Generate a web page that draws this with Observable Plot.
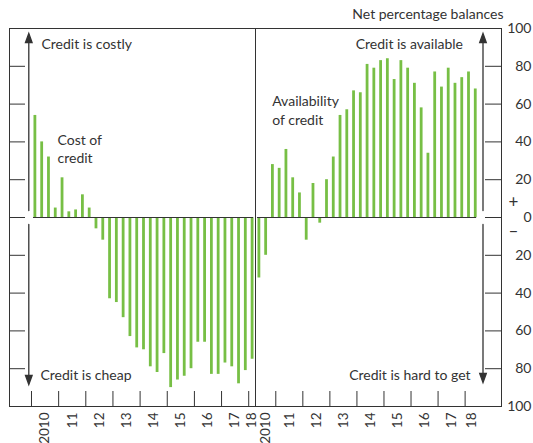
<!DOCTYPE html>
<html><head><meta charset="utf-8">
<script src="https://cdn.jsdelivr.net/npm/d3@7"></script>
<script src="https://cdn.jsdelivr.net/npm/@observablehq/plot@0.6"></script>
<style>
html,body{margin:0;padding:0;background:#fff;}
#chart{position:relative;width:533px;height:443px;overflow:hidden;font-family:Lato,sans-serif;}
#chart > svg{position:absolute;top:0;}
</style></head><body><div id="chart"></div>
<script>
// Net percentage balances, quarterly
const costOfCredit = [54,40,32,5,21,3,4,12,5,-6,-12,-43,-45,-53,-63,-69,-70,-79,-82,-72,-90,-86,-84,-80,-66,-66,-83,-83,-77,-79,-88,-81,-75];
const availabilityOfCredit = [-32,-20,28,26,36,21,13,-12,18,-3,20,32,54,57,67,66,81,79,83,84,73,83,79,71,58,34,77,69,79,71,74,77,68];
const costFirstQuarter = [2010, 1];
const availFirstQuarter = [2010, 2];
const yearTicksLeft = [2010,2011,2012,2013,2014,2015,2016,2017,2018];
const yearTicksRight = [2011,2012,2013,2014,2015,2016,2017,2018];
const yearLabels = ["2010","11","12","13","14","15","16","17","18"];
const labelPosLeft = [2010.5,2011.5,2012.5,2013.5,2014.5,2015.5,2016.5,2017.5,2018.125];
const labelPosRight = [2010.625,2011.5,2012.5,2013.5,2014.5,2015.5,2016.5,2017.5,2018.25];
const yTickValues = [-100,-80,-60,-40,-20,0,20,40,60,80,100];
const innerTicks = [-80,-60,-40,-20,0,20,40,60,80];

const green = "#77bf45";
const ink = "#333333";

function toSeries(values, [y, q]) {
  return values.map((v, i) => ({t: y + (q - 1 + i + 0.5) / 4, v}));
}
const leftData = toSeries(costOfCredit, costFirstQuarter);
const rightData = toSeries(availabilityOfCredit, availFirstQuarter);

const arrowShape = {
  draw(context, l) {
    context.moveTo(0, 0);
    context.lineTo(0, -l + 7);
    context.moveTo(-3.3, -l + 9);
    context.lineTo(0, -l);
    context.lineTo(3.3, -l + 9);
    context.closePath();
  }
};
const common = {
  height: 443, marginTop: 28, marginBottom: 37,
  y: {domain: [-100, 100], axis: null},
  style: {fontFamily: "Lato, sans-serif", fontSize: "14px", color: ink, background: "transparent", overflow: "visible"}
};
function arrow(anchor, dx, dy, length, rotate) {
  return Plot.vector([0], {frameAnchor: anchor, dx, dy, length, rotate, anchor: "start", shape: arrowShape, stroke: ink, fill: ink, strokeWidth: 1.3, strokeLinejoin: "miter"});
}
function label(text, anchor, dx, dy, textAnchor, extra = {}) {
  return Plot.text([text], {text: d => d, frameAnchor: anchor, dx, dy, textAnchor, lineAnchor: "middle", fill: ink, fontSize: 14, ...extra});
}
const labMapL = new Map(labelPosLeft.map((p, i) => [p, yearLabels[i]]));
const labMapR = new Map(labelPosRight.map((p, i) => [p, yearLabels[i]]));

const left = Plot.plot({
  ...common,
  width: 255, marginLeft: 9, marginRight: 0,
  x: {domain: [2009.19, 2018.25], axis: null},
  marks: [
    Plot.frame({stroke: ink}),
    Plot.ruleY(innerTicks, {y: d => d, insetRight: 230, stroke: ink}),
    Plot.ruleX(yearTicksLeft, {x: d => d, insetTop: 363, stroke: ink}),
    Plot.ruleX(leftData, {x: "t", y1: 0, y2: "v", stroke: green, strokeWidth: 2.8}),
    Plot.ruleY([0], {x1: leftData[0].t, x2: leftData[leftData.length - 1].t, insetLeft: -1.4, insetRight: -1.4, stroke: ink}),
    Plot.axisX(labelPosLeft, {label: null, tickFormat: d => labMapL.get(d), tickSize: 0, tickRotate: -90, tickPadding: 6, textAnchor: "end", lineAnchor: "middle", fontSize: 13.5, fill: ink}),
    arrow("top-left", 19.3, 182, 177, 0),
    arrow("top-left", 19.3, 196, 160, 180),
    label("Credit is costly", "top-left", 32, 16, "start"),
    label("Credit is cheap", "bottom-left", 31, -31, "start"),
    label("Cost of\ncredit", "top-left", 48, 119.5, "start", {lineHeight: 1.3})
  ]
});

const right = Plot.plot({
  ...common,
  width: 278, marginLeft: 0, marginRight: 32,
  x: {domain: [2010.25, 2019.345], axis: null},
  marks: [
    Plot.frame({stroke: ink}),
    Plot.ruleY(innerTicks, {y: d => d, insetLeft: 230, stroke: ink}),
    Plot.ruleX(yearTicksRight, {x: d => d, insetTop: 363, stroke: ink}),
    Plot.ruleX(rightData, {x: "t", y1: 0, y2: "v", stroke: green, strokeWidth: 2.8}),
    Plot.ruleY([0], {x1: rightData[0].t, x2: rightData[rightData.length - 1].t, insetLeft: -1.4, insetRight: -1.4, stroke: ink}),
    Plot.axisX(labelPosRight, {label: null, tickFormat: d => labMapR.get(d), tickSize: 0, tickRotate: -90, tickPadding: 6, textAnchor: "end", lineAnchor: "middle", fontSize: 13.5, fill: ink}),
    Plot.axisY(yTickValues, {label: null, anchor: "right", tickFormat: d => Math.abs(d), tickSize: 0, tickPadding: 30, textAnchor: "end", fontSize: 14, fill: ink}),
    arrow("top-right", -18.5, 182, 177, 0),
    arrow("top-right", -18.5, 196, 158, 180),
    label("Credit is available", "top-right", -38.5, 16, "end"),
    label("Credit is hard to get", "bottom-right", -31, -31, "end"),
    label("Availability\nof credit", "top-left", 16.7, 81, "start", {lineHeight: 1.35}),
    label("Net percentage balances", "top-right", 2, -13.5, "end"),
    label("+", "right", 12, -15, "middle", {fontSize: 17}),
    label("\u2013", "right", 12, 14, "middle", {fontSize: 17})
  ]
});
right.style.left = "255px";
left.style.left = "0px";
document.getElementById("chart").append(left, right);
</script></body></html>
